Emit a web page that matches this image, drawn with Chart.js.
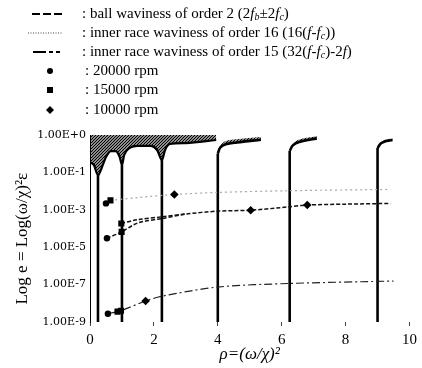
<!DOCTYPE html>
<html><head><meta charset="utf-8">
<script src="https://cdn.jsdelivr.net/npm/chart.js@4/dist/chart.umd.min.js"></script>
<style>
html,body{margin:0;padding:0;background:#fff;}
#wrap{position:relative;width:422px;height:368px;overflow:hidden;}
canvas{position:absolute;left:0;top:0;}
.row{position:absolute;left:0;width:422px;height:19px;font:15px "Liberation Serif",serif;color:#000;white-space:nowrap;}
.row svg{position:absolute;left:0;top:0;}
.row span{position:absolute;top:0;line-height:19px;}
sub{font-size:10px;vertical-align:-2px;line-height:0;}
</style></head>
<body><div id="wrap"><canvas id="c" width="422" height="368"></canvas><div id="legend"></div></div>
<script>
// ---- tick labels ----
const xTicks = [0, 2, 4, 6, 8, 10];
const yTickValues = [1e-9, 1e-7, 1e-5, 1e-3, 1e-1, 1e1];
const yTickLabels = ['1.00E-9', '1.00E-7', '1.00E-5', '1.00E-3', '1.00E-1', '1.00E+0'];

// ---- ball waviness of order 2 (two sidebands 2fb+2fc / 2fb-2fc) ----
const ballPlusRho = [0.98, 1.5, 2.25, 3.0, 4.0, 5.03, 6.25, 6.8, 8.0, 9.4];
const ballPlusE   = [1.85e-4, 3.0e-4, 4.2e-4, 6.0e-4, 8.5e-4, 9.5e-4, 1.45e-3, 1.8e-3, 2.0e-3, 2.2e-3];
const ballMinusRho = [0.53, 0.99, 1.5, 2.25, 3.0];
const ballMinusE   = [3.0e-5, 6.6e-5, 2.0e-4, 3.4e-4, 6.0e-4];

// ---- inner race waviness of order 16 ----
const inner16Rho = [0.64, 1.5, 2.64, 4.0, 6.25, 9.4];
const inner16E   = [3.2e-3, 4.5e-3, 6.6e-3, 8.5e-3, 1.05e-2, 1.23e-2];

// ---- inner race waviness of order 15 ----
const inner15Rho = [0.56, 0.87, 0.97, 1.74, 2.25, 4.0, 6.25, 9.5];
const inner15E   = [2.75e-9, 3.6e-9, 4.0e-9, 1.32e-8, 2.4e-8, 7.4e-8, 1.15e-7, 1.55e-7];

// ---- measured points ----
const rpm20kRho = [0.5, 0.53, 0.56];
const rpm20kE   = [2.2e-3, 3.0e-5, 2.75e-9];
const rpm15kRho = [0.64, 0.98, 0.99, 0.86, 0.97];
const rpm15kE   = [3.2e-3, 1.85e-4, 6.6e-5, 3.6e-9, 4.0e-9];
const rpm10kRho = [2.64, 5.03, 6.8, 1.74];
const rpm10kE   = [6.6e-3, 9.5e-4, 1.8e-3, 1.32e-8];

// ---- stability chart (resonance lines + unstable region) ----
const resonanceRho  = [0.25, 1, 2.25, 4, 6.25, 9];
const resonanceBotE = [1e-9, 1e-9, 1e-9, 1e-9, 1e-9, 1e-9];
const resonanceTopE = [0.072, 0.25, 0.46, 1.0, 1.4, 2.0];
const unstableRho = [0, 0.12, 0.25, 0.4, 0.5, 0.65, 0.8, 0.93, 1.0, 1.07, 1.2, 1.5, 1.9, 2.1, 2.25, 2.35, 2.5, 3.0, 3.95];
const unstableE   = [0.35, 0.25, 0.072, 0.25, 0.66, 1.38, 1.38, 0.66, 0.25, 0.85, 1.78, 2.6, 2.6, 1.58, 0.46, 1.58, 3.3, 3.7, 5.4];
const tongue4Rho = [4.0, 4.08, 4.25, 4.6, 5.35];
const tongue4E   = [1.0, 2.2, 3.2, 4.0, 5.6];
const tongue4Top = [1.0, 2.7, 4.8, 6.0, 7.8];
const tongue5Rho = [6.25, 6.35, 6.55, 7.1];
const tongue5E   = [1.4, 2.8, 4.2, 6.6];
const tongue5Top = [1.4, 3.4, 5.8, 8.6];
const tongue6Rho = [9.0, 9.1, 9.21, 9.47];
const tongue6E   = [2.0, 3.5, 4.4, 5.4];
const tongue6Top = [2.0, 3.9, 5.4, 6.8];

// ---- legend (HTML text) ----
const legendRows = [
  {svg:'<line x1="32" y1="10" x2="63" y2="10" stroke="#000" stroke-width="2" stroke-dasharray="8,3"/>', x:82,
   html:': ball waviness of order 2 (2<i>f<sub>b</sub></i>±2<i>f<sub>c</sub></i>)'},
  {svg:'<line x1="28" y1="10" x2="62" y2="10" stroke="#444" stroke-width="1" stroke-dasharray="1,1.5"/>', x:82,
   html:': inner race waviness of order 16 (16(<i>f</i>-<i>f<sub>c</sub></i>))'},
  {svg:'<line x1="33" y1="10" x2="63" y2="10" stroke="#000" stroke-width="2" stroke-dasharray="13,3,4,3,4,3"/>', x:82,
   html:': inner race waviness of order 15 (32(<i>f</i>-<i>f<sub>c</sub></i>)-2<i>f</i>)'},
  {svg:'<circle cx="50" cy="10" r="3" fill="#000"/>', x:85, html:': 20000 rpm'},
  {svg:'<rect x="47" y="7" width="6" height="6" fill="#000"/>', x:85, html:': 15000 rpm'},
  {svg:'<polygon points="50,6 54,10 50,14 46,10" fill="#000"/>', x:85, html:': 10000 rpm'}
];
const legendEl = document.getElementById('legend');
legendRows.forEach((r, i) => {
  const d = document.createElement('div');
  d.className = 'row';
  d.style.top = (4 + i * 19.1) + 'px';
  d.innerHTML = '<svg width="80" height="19">' + r.svg + '</svg><span style="left:' + r.x + 'px">' + r.html + '</span>';
  legendEl.appendChild(d);
});

// ---- chart ----
const canvas = document.getElementById('c');
const ctx = canvas.getContext('2d');
function makeHatch() {
  const t = document.createElement('canvas');
  t.width = 3; t.height = 3;
  const g = t.getContext('2d');
  g.strokeStyle = '#000'; g.lineWidth = 1.3;
  g.beginPath();
  g.moveTo(0, 3); g.lineTo(3, 0);
  g.moveTo(-1, 1); g.lineTo(1, -1);
  g.moveTo(2, 4); g.lineTo(4, 2);
  g.stroke();
  return ctx.createPattern(t, 'repeat');
}
const hatch = makeHatch();
const pts = (xs, ys) => xs.map((x, i) => ({x: x, y: ys[i]}));

const datasets = [];
// measured points (on top)
datasets.push({label:'20000 rpm', data: pts(rpm20kRho, rpm20kE), showLine:false, pointStyle:'circle', pointRadius:3.2, backgroundColor:'#000', borderColor:'#000', borderWidth:0});
datasets.push({label:'15000 rpm', data: pts(rpm15kRho, rpm15kE), showLine:false, pointStyle:'rect', pointRadius:4.3, backgroundColor:'#000', borderColor:'#000', borderWidth:0});
datasets.push({label:'10000 rpm', data: pts(rpm10kRho, rpm10kE), showLine:false, pointStyle:'rectRot', pointRadius:4.3, backgroundColor:'#000', borderColor:'#000', borderWidth:0});
// series lines
datasets.push({label:'ball waviness of order 2 (+)', data: pts(ballPlusRho, ballPlusE), borderColor:'#111', borderWidth:1.5, borderDash:[4,2], pointRadius:0, tension:0.3, fill:false});
datasets.push({label:'ball waviness of order 2 (-)', data: pts(ballMinusRho, ballMinusE), borderColor:'#111', borderWidth:1.5, borderDash:[4,2], pointRadius:0, tension:0.3, fill:false});
datasets.push({label:'inner race waviness of order 16', data: pts(inner16Rho, inner16E), borderColor:'#a8a8a8', borderWidth:1.2, borderDash:[2,3], pointRadius:0, tension:0.3, fill:false});
datasets.push({label:'inner race waviness of order 15', data: pts(inner15Rho, inner15E), borderColor:'#222', borderWidth:1.2, borderDash:[8,3,2,3], pointRadius:0, tension:0.3, fill:false});
// resonance lines
resonanceRho.forEach((r, i) => {
  datasets.push({label:'resonance ' + r, data: pts([r, r], [resonanceBotE[i], resonanceTopE[i]]), borderColor:'#000', borderWidth:2.6, pointRadius:0, fill:false});
});
// unstable region at the top
datasets.push({label:'unstable region', data: pts(unstableRho, unstableE), borderColor:'#000', borderWidth:2.2, pointRadius:0, cubicInterpolationMode:'monotone', fill:'end', backgroundColor: hatch});
// small hatched tongues
[[tongue4Rho, tongue4E, tongue4Top], [tongue5Rho, tongue5E, tongue5Top], [tongue6Rho, tongue6E, tongue6Top]].forEach(([rx, ry, rt], k) => {
  datasets.push({label:'tongue ' + (k + 4), data: pts(rx, ry), borderColor:'#000', borderWidth:2.6, pointRadius:0, tension:0.35, fill:false});
  datasets.push({label:'tongue hatch ' + (k + 4), data: pts(rx, rt), borderColor:'rgba(0,0,0,0)', borderWidth:0, pointRadius:0, tension:0.35, fill:'-1', backgroundColor: hatch});
});

new Chart(ctx, {
  type: 'line',
  data: { datasets: datasets },
  options: {
    responsive: false,
    animation: false,
    devicePixelRatio: 1,
    layout: { padding: { top: 135, right: 10, left: 0, bottom: 0 } },
    plugins: { legend: { display: false }, tooltip: { enabled: false } },
    scales: {
      x: {
        type: 'linear', min: 0, max: 10,
        afterBuildTicks: s => { s.ticks = xTicks.map(v => ({value: v})); },
        ticks: { font: { family: 'Liberation Serif', size: 15 }, color: '#000', padding: 5, maxRotation: 0, autoSkip: false },
        grid: { drawOnChartArea: false, drawTicks: true, tickLength: 4, color: '#444', lineWidth: 1 },
        border: { display: false },
        title: { display: true, text: 'ρ=(ω/χ)²', font: { family: 'Liberation Serif', size: 17, style: 'italic' }, padding: { top: 0, bottom: 3 }, color: '#000' },
        afterFit: s => { s.height = 46; }
      },
      y: {
        type: 'logarithmic', min: 1e-9, max: 10,
        afterBuildTicks: s => { s.ticks = yTickValues.map(v => ({value: v})); },
        ticks: { callback: (v, i) => yTickLabels[i], font: { family: 'DejaVu Serif', size: 11 }, color: '#000', padding: 4, autoSkip: false },
        grid: { display: false, drawTicks: false },
        border: { display: true, color: '#000', width: 1 },
        title: { display: true, text: 'Log e = Log(ω/χ)²ε\u2002\u2002\u2009', font: { family: 'Liberation Serif', size: 17 }, padding: { top: 12, bottom: 0 }, color: '#000' },
        afterFit: s => { s.width = 90; }
      }
    }
  }
});
</script>
</body></html>
